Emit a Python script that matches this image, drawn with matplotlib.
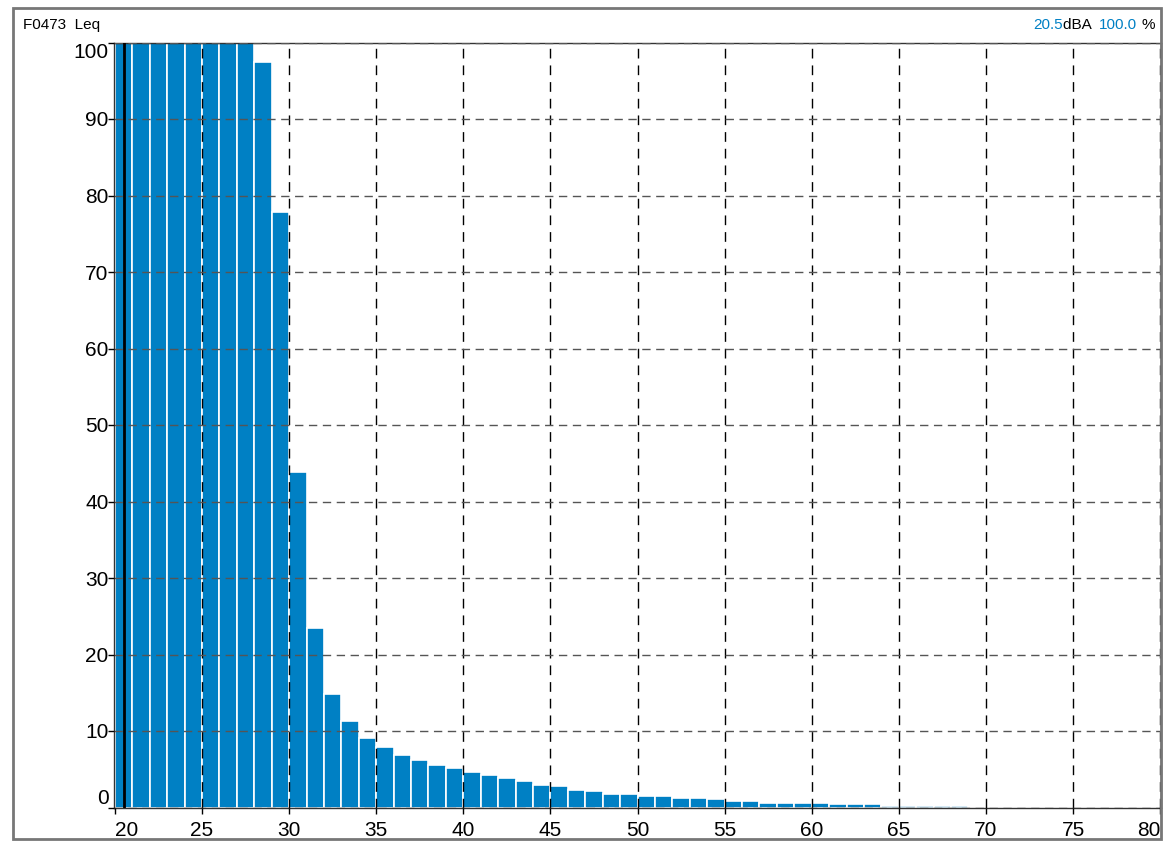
import matplotlib
matplotlib.use("Agg")
import matplotlib.pyplot as plt
from matplotlib.patches import Rectangle

plt.rcParams['font.family'] = ['Liberation Sans', 'DejaVu Sans']

# level classes (dB, 1 dB wide) and percentage of time above each
levels = list(range(20, 69))
percent = [100, 100, 100, 100, 100, 100, 100, 100, 97.5, 77.9,
           43.9, 23.5, 14.9, 11.3, 9.1, 7.9, 6.9, 6.25, 5.6, 5.2,
           4.7, 4.3, 3.9, 3.5, 3.0, 2.85, 2.3, 2.2, 1.8, 1.8,
           1.55, 1.55, 1.3, 1.3, 1.15, 0.9, 0.9, 0.63, 0.63, 0.63,
           0.63, 0.5, 0.5, 0.5, 0.24, 0.24, 0.24, 0.24, 0.24]
xticks = list(range(20, 81, 5))
yticks = list(range(0, 101, 10))
cursor_level = 20.5
cursor_pct = 100.0

blue = "#0080C4"

fig = plt.figure(figsize=(11.66, 8.41), dpi=100)
ax = fig.add_axes([114 / 1166, 33.5 / 841, 1047 / 1166, 765 / 841])

ax.bar(levels, percent, width=1.0, align="edge", color=blue,
       edgecolor="white", linewidth=1.2, zorder=1)
ax.axvline(cursor_level, color="black", linewidth=2, zorder=3)

ax.set_xlim(19.95, 80.05)
ax.set_ylim(0, 100)
ax.set_xticks(xticks)
ax.set_yticks(yticks)
ax.tick_params(axis="both", direction="out", length=4, width=1,
               labelsize=15)
ax.tick_params(axis="x", pad=6)
ax.tick_params(axis="y", pad=0)

ax.set_axisbelow(False)
ax.xaxis.grid(True, color="black", linestyle=(0, (7, 5)), linewidth=1)
ax.yaxis.grid(True, color="#555555", linestyle=(0, (6, 4)), linewidth=1)
# no dashed line over the left axis
ax.xaxis.get_gridlines()[0].set_visible(False)

# keep the edge labels inside the plot width / height
xl = ax.get_xticklabels()
xl[0].set_horizontalalignment("left")
xl[-1].set_horizontalalignment("right")
yl = ax.get_yticklabels()
yl[0].set_verticalalignment("bottom")
yl[-1].set_verticalalignment("top")

for s in ax.spines.values():
    s.set_color("#333333")
    s.set_linewidth(1)

# outer frame
fig.patches.append(Rectangle((12.5 / 1166, 2 / 841), 1148.5 / 1166, 831 / 841,
                             transform=fig.transFigure, fill=False,
                             edgecolor="#777777", linewidth=2))

fig.text(23 / 1166, 1 - 25 / 841, "F0473  Leq", fontsize=11, va="center")

# right header, partly coloured
y_h = 1 - 25 / 841
t4 = fig.text(1155 / 1166, y_h, "%", fontsize=11, va="center", ha="right")
fig.canvas.draw()
r = fig.canvas.get_renderer()
parts = [("%.1f" % cursor_pct, blue), ("dBA  ", "black"),
         ("%.1f" % cursor_level, blue)]
x_right = t4.get_window_extent(r).x0 - 4
for txt, c in parts:
    t = fig.text(x_right / 1166, y_h, txt, fontsize=11, va="center",
                 ha="right", color=c)
    x_right = t.get_window_extent(r).x0

fig.savefig("out.png", dpi=100)
